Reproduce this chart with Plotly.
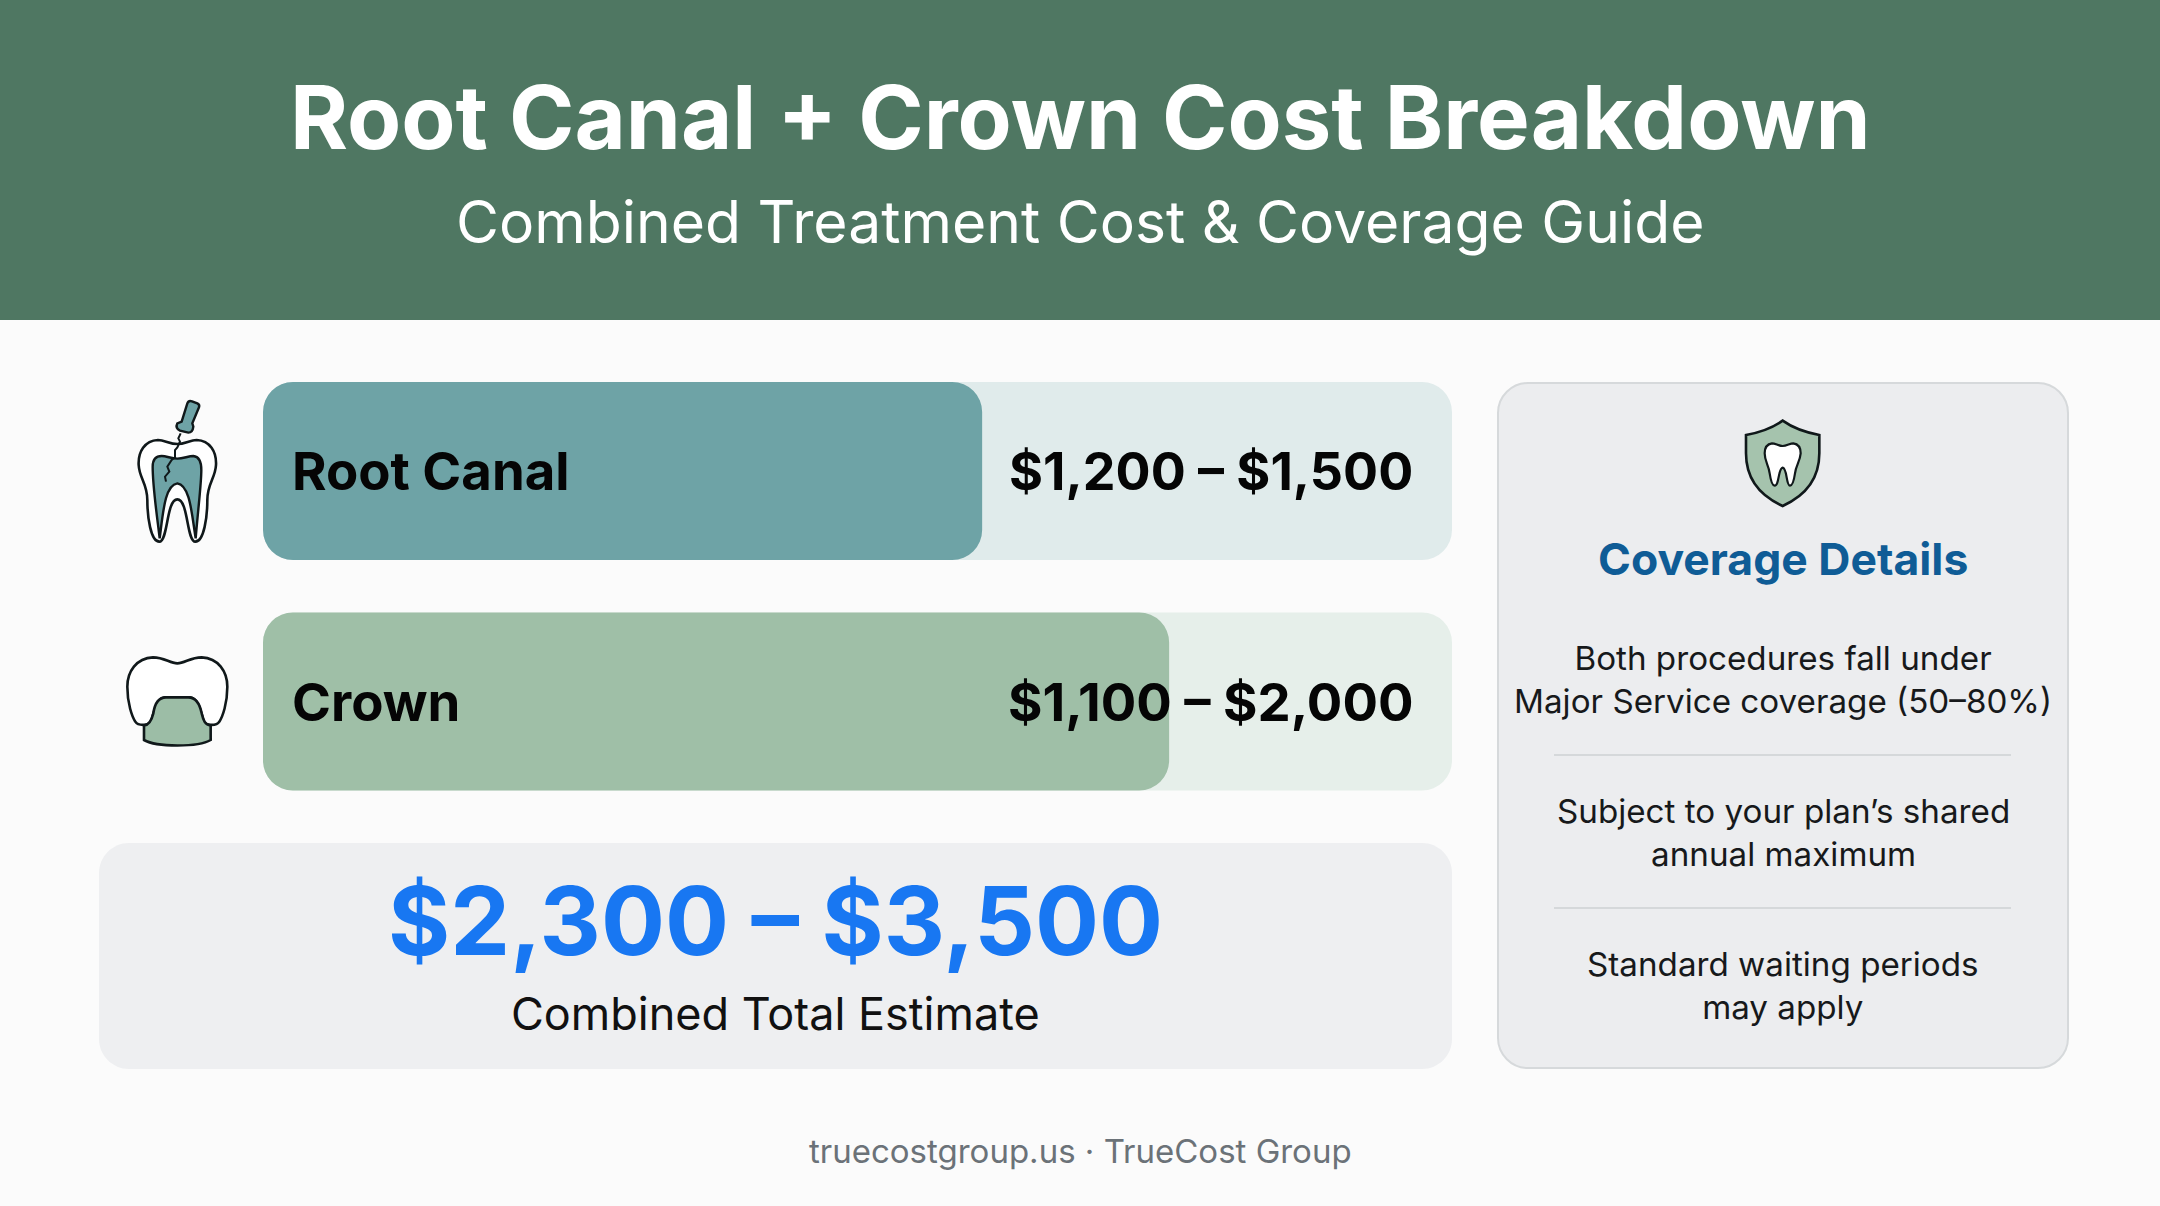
import re
import plotly.graph_objects as go

# ---- data ----
categories = ["Root Canal", "Crown"]
range_labels = ["$1,200 – $1,500", "$1,100 – $2,000"]
fill_values = [1500, 1890]
track_values = [2480, 2480]
bar_starts = [0, 0]
fill_colors = ["#6EA3A6", "#9FBFA7"]
track_colors = ["#E0EBEB", "#E6EFEA"]
title = "Root Canal + Crown Cost Breakdown"
subtitle = "Combined Treatment Cost & Coverage Guide"
total_text = "$2,300 – $3,500"
total_label = "Combined Total Estimate"
panel_title = "Coverage Details"
coverage_lines = [
    "Both procedures fall under<br>Major Service coverage (50–80%)",
    "Subject to your plan’s shared<br>annual maximum",
    "Standard waiting periods<br>may apply",
]
footer = "truecostgroup.us · TrueCost Group"

W, H = 2160, 1206
INK = "#10181A"
TEAL = "#6EA3A6"
SAGE = "#9CBDA6"


def rounded(x0, y0, x1, y1, r):
    k = 0.45 * r
    return (f"M{x0+r} {y0} L{x1-r} {y0} C{x1-k} {y0} {x1} {y0+k} {x1} {y0+r} "
            f"L{x1} {y1-r} C{x1} {y1-k} {x1-k} {y1} {x1-r} {y1} "
            f"L{x0+r} {y1} C{x0+k} {y1} {x0} {y1-k} {x0} {y1-r} "
            f"L{x0} {y0+r} C{x0} {y0+k} {x0+k} {y0} {x0+r} {y0} Z")


def place(path, ox, oy, k=1 / 3):
    """Move an icon outline drawn in a local grid to its place on the page."""
    out, is_x = [], True
    for tok in re.findall(r"[A-Za-z]|-?\d+\.?\d*", path):
        if tok.isalpha():
            out.append(tok)
        else:
            v = float(tok) * k + (ox if is_x else oy)
            out.append(f"{v:.2f}")
            is_x = not is_x
    res = ""
    for tok in out:
        res += tok if tok.isalpha() else tok + " "
    return res


shapes = []


def add(path, fill="rgba(0,0,0,0)", line=None, width=0):
    shapes.append(dict(type="path", path=path, xref="x", yref="y", layer="below",
                       fillcolor=fill,
                       line=dict(color=line or "rgba(0,0,0,0)", width=width)))


# page regions
add(f"M0 0 L{W} 0 L{W} 320 L0 320 Z", "#4F7762")
add(rounded(99, 843, 1452, 1069, 30), "#EEEFF1")
add(rounded(1498, 383, 2068, 1068, 30), "#ECEDEF", "#D6D9DB", 2)
for yy in (755, 908):
    add(f"M1554 {yy} L2011 {yy}", line="#D5D8DA", width=2)

# root canal icon
O1 = (90, 370)
add(place("M262 222 C285 222 300 210 320 210 C360 212 380 245 378 285 C376 325 352 340 352 390 "
          "C352 440 342 515 316 515 C290 515 295 388 262 388 C229 388 234 515 208 515 "
          "C182 515 172 440 172 390 C172 340 148 325 146 285 C144 245 164 212 204 210 "
          "C224 210 239 222 262 222 Z", *O1), "#FFFFFF", INK, 2.6)
add(place("M262 266 C280 266 295 258 310 258 C328 260 334 275 334 300 C334 340 326 400 317 505 "
          "C305 430 300 345 262 340 C224 345 219 430 209 505 C200 430 188 350 188 290 "
          "C188 270 196 258 215 258 C230 258 244 266 262 266 Z", *O1), TEAL, INK, 2.4)
add(place("M272 190 L265 205 L270 215 L262 232 L255 240 L255 262 L245 270 L232 290 L238 305 "
          "L225 320 L228 335", *O1), line=INK, width=2)
add(place("M292 100 Q296 90 306 94 L322 100 Q330 104 327 112 L307 160 L310 170 Q308 188 295 188 "
          "L270 182 Q255 175 262 160 L275 155 Z", *O1), TEAL, INK, 2.4)

# crown icon
add(place("M262 880 C285 880 300 862 335 862 C385 864 412 905 412 950 C412 1000 398 1040 388 1055 "
          "C380 1068 350 1068 342 1055 C335 1040 330 985 300 982 L225 982 C195 985 190 1040 182 1055 "
          "C174 1068 144 1068 136 1055 C126 1040 112 1000 112 950 C112 905 139 864 189 862 "
          "C224 862 239 880 262 880 Z", *O1), "#FFFFFF", INK, 2.6)
add(place("M162 1066 L162 1110 C200 1132 325 1132 362 1110 L362 1066 C345 1066 340 1050 335 1030 "
          "C328 995 315 982 295 982 L228 982 C208 982 195 995 190 1030 C185 1050 178 1066 162 1066 Z",
          *O1), SAGE, INK, 2.6)

# shield icon
O2 = (1680, 390)
add(place("M308 92 C340 115 380 128 418 135 L418 190 C418 270 370 320 308 348 C246 320 198 270 198 190 "
          "L198 135 C236 128 276 115 308 92 Z", *O2), "#A5C3AD", INK, 2.6)
add(place("M308 168 C320 168 330 160 340 160 C355 162 362 175 362 190 C360 215 348 225 345 250 "
          "C342 270 338 287 330 287 C318 287 322 235 308 233 C294 235 298 287 284 287 C276 287 272 270 "
          "269 250 C266 225 254 215 254 190 C254 175 261 162 276 160 C286 160 296 168 308 168 Z", *O2),
    "#FFFFFF", INK, 2.2)

annotations = []


def text(t, x, y, size, color, weight=400, anchor="center", family="Inter"):
    annotations.append(dict(text=t, x=x, y=y, xref="x", yref="y", xanchor=anchor, yanchor="middle",
                            showarrow=False, align="center",
                            font=dict(family=family, size=size, color=color, weight=weight)))


text(title, 1080, 116, 88.5, "#FFFFFF", 700)
text(subtitle, 1080, 221, 58.8, "#FFFFFF", 400)
for cat, rng, yy, rsize in zip(categories, range_labels, (471, 702), (52, 52.7)):
    text(cat, 290, yy, 52.7, "#050505", 700, "left")
    text(rng, 1415, yy, rsize, "#050505", 700, "right")
text(total_text, 775, 920, 95, "#1877F2", 700)
text(total_label, 775, 1013, 45, "#111111", 400)
text(panel_title, 1783, 559, 44.5, "#0F5C96", 700)
for line, yy in zip(coverage_lines, (679, 832, 985)):
    text(line, 1783, yy, 33.2, "#17191B", 400)
text(footer, 1080, 1151, 33, "#6B7278", 400)

fig = go.Figure()
for values, colors in ((track_values, track_colors), (fill_values, fill_colors)):
    fig.add_trace(go.Bar(x=values, base=bar_starts, y=categories, orientation="h",
                         xaxis="x2", yaxis="y2", width=0.772,
                         marker=dict(color=colors, cornerradius=30, line_width=0),
                         hoverinfo="skip", showlegend=False))

hidden = dict(visible=False, fixedrange=True)
fig.update_layout(
    width=W, height=H, autosize=False,
    margin=dict(l=0, r=0, t=0, b=0, pad=0),
    paper_bgcolor="#FBFBFB", plot_bgcolor="rgba(0,0,0,0)",
    barmode="overlay", showlegend=False,
    xaxis=dict(range=[0, W], domain=[0, 1], **hidden),
    yaxis=dict(range=[H, 0], domain=[0, 1], **hidden),
    xaxis2=dict(range=[0, 2480], domain=[263 / W, 1452 / W], anchor="y2", **hidden),
    yaxis2=dict(range=[1.5, -0.5], domain=[1 - 816.75 / H, 1 - 355.75 / H], anchor="x2",
                type="category", categoryorder="array", categoryarray=categories, **hidden),
    shapes=shapes, annotations=annotations,
)
fig.write_html("out.html", config={"displayModeBar": False},
               post_script="document.body.style.margin='0';document.body.style.overflow='hidden';")
